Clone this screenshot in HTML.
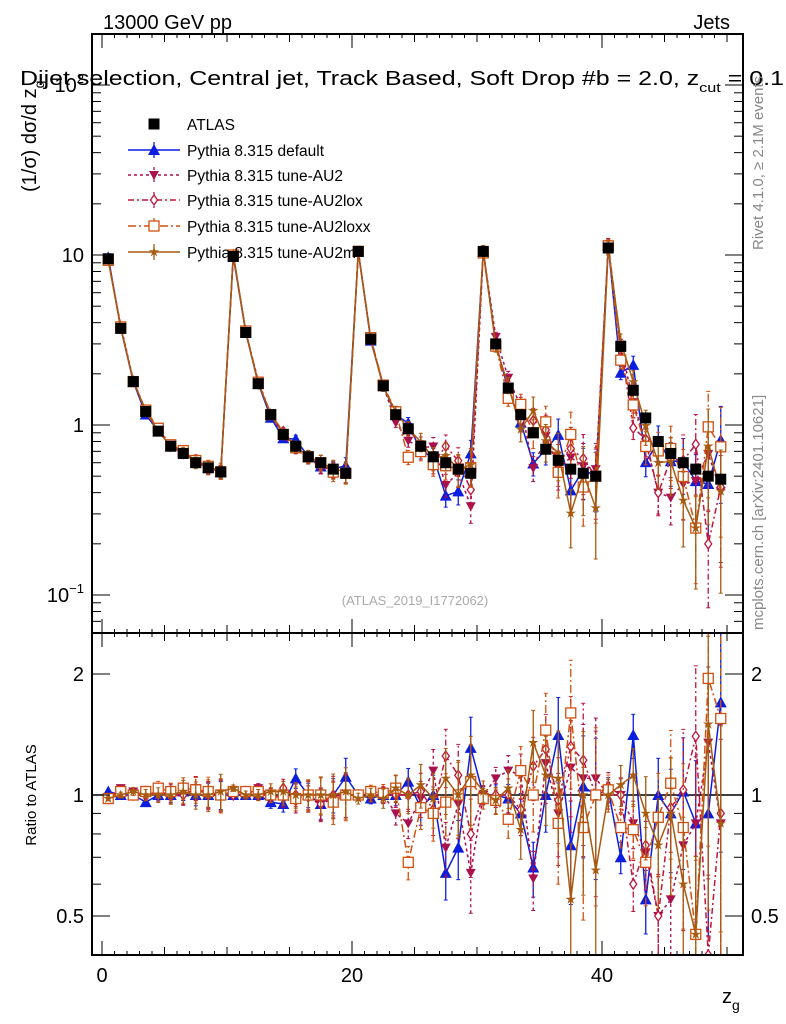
<!DOCTYPE html>
<html><head><meta charset="utf-8"><style>
html,body{margin:0;padding:0;background:#fff;width:786px;height:1024px;overflow:hidden;}
svg{display:block;font-family:"Liberation Sans",sans-serif;}
</style></head><body>
<svg id="c" width="786" height="1024" viewBox="0 0 786 1024" xmlns="http://www.w3.org/2000/svg">
<g id="main"></g>
<g id="ratio"></g>
<text x="103" y="29" font-size="20">13000 GeV pp</text>
<text x="730" y="29" font-size="20" text-anchor="end">Jets</text>
<text x="20" y="85" font-size="20" textLength="764" lengthAdjust="spacingAndGlyphs">Dijet selection, Central jet, Track Based, Soft Drop #b = 2.0, z<tspan dy="7" font-size="13">cut</tspan><tspan dy="-7"> = 0.1</tspan></text>
<text transform="translate(36,192) rotate(-90)" font-size="20">(1/σ) dσ/d z<tspan dy="8" font-size="14">g</tspan></text>
<text transform="translate(36,795) rotate(-90)" font-size="15" text-anchor="middle">Ratio to ATLAS</text>
<text x="722" y="1003" font-size="20">z<tspan dy="7" font-size="14">g</tspan></text>
<text transform="translate(763,250) rotate(-90)" font-size="15" fill="#888">Rivet 4.1.0, ≥ 2.1M events</text>
<text transform="translate(763,630) rotate(-90)" font-size="15" fill="#888">mcplots.cern.ch [arXiv:2401.10621]</text>
<text x="415" y="605" font-size="13" fill="#aaa" text-anchor="middle">(ATLAS_2019_I1772062)</text>
<g id="legend"></g>
</svg>
<script>
const atlas=[9.5,3.7,1.8,1.2,0.92,0.75,0.68,0.6,0.56,0.53,
9.8,3.5,1.75,1.15,0.88,0.75,0.65,0.6,0.55,0.52,
10.5,3.2,1.7,1.15,0.95,0.75,0.65,0.6,0.55,0.52,
10.5,3.0,1.65,1.15,0.9,0.72,0.62,0.55,0.52,0.5,
11,2.9,1.6,1.1,0.8,0.68,0.6,0.55,0.5,0.48];
const rDefault=[1.02,1.0,1.0,0.96,1.0,1.0,1.02,1.0,1.0,1.0,
1.0,1.0,1.0,0.96,0.95,1.1,1.0,0.95,1.0,1.11,
1.0,0.98,1.0,1.0,1.08,0.93,1.0,0.64,0.74,1.31,
1.0,1.0,0.98,0.9,0.66,1.0,1.41,0.75,1.05,1.0,
1.03,0.7,1.41,0.55,1.0,0.9,1.02,0.85,0.9,1.7];
const rAU2=[0.98,1.04,1.02,1.0,1.0,1.02,1.0,1.04,1.0,1.0,
1.02,1.0,1.04,1.0,0.98,0.96,0.98,0.95,0.98,1.0,
1.0,1.0,1.0,0.9,0.85,0.98,1.15,0.74,0.95,0.64,
1.0,1.1,1.15,1.12,0.62,1.2,0.9,1.17,1.1,1.1,
1.0,1.0,0.85,0.72,0.5,0.55,0.75,0.85,1.35,0.85];
const rAU2lox=[0.98,1.02,1.0,1.0,1.02,1.0,1.0,1.04,1.0,1.0,
1.0,1.02,1.0,1.0,1.04,1.0,1.0,0.95,1.0,1.0,
1.0,1.0,1.0,1.0,1.0,1.02,0.92,1.25,1.12,0.8,
1.0,1.0,1.0,0.92,1.18,1.3,0.97,1.32,1.22,1.0,
1.05,1.0,0.6,0.75,0.5,0.93,1.03,1.4,0.4,0.9];
const rAU2loxx=[0.98,1.02,1.0,1.02,1.04,1.02,1.04,1.03,1.02,1.0,
1.02,1.02,1.02,1.0,1.0,0.98,1.0,1.0,0.96,1.0,
1.0,1.02,1.01,1.04,0.68,0.93,0.9,0.96,1.0,1.08,
0.98,0.97,0.87,1.15,1.0,1.45,0.85,1.6,0.83,1.0,
1.03,0.83,0.82,0.68,0.88,1.07,0.83,0.45,1.95,1.55];
const rAU2m=[0.98,1.0,1.02,1.0,1.0,1.0,1.02,1.0,1.0,1.02,
1.04,1.0,1.0,1.02,1.02,1.0,1.0,1.0,1.0,1.02,
0.98,1.0,0.98,1.04,1.0,1.06,0.98,1.1,1.0,1.12,
1.02,0.97,1.04,0.82,1.35,1.12,1.1,0.55,1.0,0.65,
1.0,1.06,1.12,0.9,0.75,0.9,0.6,0.45,1.5,0.85];
const relErrInGroup=[0.02,0.025,0.035,0.05,0.065,0.08,0.1,0.12,0.14,0.16];
const groupErrScale=[0.5,0.7,1.2,2.4,3.6];
const xTicks=[0,20,40];
const yTicks=[0.1,1,10,100];
const yTickLabels=["10","1","10","10"];
const rTicks=[0.5,1,2];

const NS="http://www.w3.org/2000/svg";
const L=92,R=743,T=34,MB=633,RB=955;
const X0=-0.8,X1=51.28;
const xs=v=>L+(v-X0)/(X1-X0)*(R-L);
const cl=(y,a,b)=>Math.min(b,Math.max(a,y));
const yMain=v=>255-170*Math.log10(v/10);
const yRat=v=>795-121*Math.log2(v);
function el(p,tag,a){const e=document.createElementNS(NS,tag);for(const k in a)e.setAttribute(k,a[k]);p.appendChild(e);return e;}
const main=document.getElementById('main'),ratio=document.getElementById('ratio');
const series=[
 {name:"Pythia 8.315 default",r:rDefault,col:"#0b1ee0",dash:"",mk:"tri"},
 {name:"Pythia 8.315 tune-AU2",r:rAU2,col:"#a8104e",dash:"3,3",mk:"tridown"},
 {name:"Pythia 8.315 tune-AU2lox",r:rAU2lox,col:"#c0143c",dash:"6,3,2,3",mk:"diamond"},
 {name:"Pythia 8.315 tune-AU2loxx",r:rAU2loxx,col:"#d05010",dash:"8,3,2,3",mk:"square"},
 {name:"Pythia 8.315 tune-AU2m",r:rAU2m,col:"#a85a10",dash:"",mk:"star"}];
function marker(g,kind,x,y,col){
 let e;
 if(kind==="tri")e=el(g,'polygon',{points:`${x},${y-6} ${x-6},${y+5} ${x+6},${y+5}`,fill:col});
 else if(kind==="tridown")e=el(g,'polygon',{points:`${x},${y+5} ${x-5},${y-4} ${x+5},${y-4}`,fill:col});
 else if(kind==="diamond")e=el(g,'polygon',{points:`${x},${y-5} ${x-3.5},${y} ${x},${y+5} ${x+3.5},${y}`,fill:"#fff",stroke:col,'stroke-width':1.3});
 else if(kind==="square")e=el(g,'rect',{x:x-5,y:y-5,width:10,height:10,fill:"#fff",stroke:col,'stroke-width':1.3});
 else if(kind==="star"){let p=[];for(let i=0;i<10;i++){const a=-Math.PI/2+i*Math.PI/5,rr=i%2?2:5.5;p.push((x+rr*Math.cos(a)).toFixed(1)+","+(y+rr*Math.sin(a)).toFixed(1));}e=el(g,'polygon',{points:p.join(' '),fill:col});}
 else e=el(g,'rect',{x:x-5.5,y:y-5.5,width:11,height:11,fill:col});
 return e;
}
function clip(id,y0,y1){const d=el(document.getElementById('c'),'clipPath',{id:id});el(d,'rect',{x:L,y:y0,width:R-L,height:y1-y0});}
clip('cm',T,MB);clip('cr',MB,RB);
const gm=el(main,'g',{'clip-path':'url(#cm)'}),gr=el(ratio,'g',{'clip-path':'url(#cr)'});
el(gr,'line',{x1:L,x2:R,y1:yRat(1),y2:yRat(1),stroke:"#000",'stroke-width':1.5});
function relErr(i){return relErrInGroup[i%10]*groupErrScale[Math.floor(i/10)];}
series.forEach((s,si)=>{
 const gs=el(gm,'g',{});
 
 
 const grs=el(gr,'g',{});
 
 
 let pm=[],pr=[];
 atlas.forEach((a,i)=>{
  const xc=xs(i+0.5),v=a*s.r[i],e=relErr(i)*(1+0.3*si/4);
  const ym=yMain(v),yr=cl(yRat(s.r[i]),MB,RB);
  pm.push(xc.toFixed(1)+","+ym.toFixed(1));pr.push(xc.toFixed(1)+","+yr.toFixed(1));
  const lo=Math.max(v*(1-e),1e-3),hi=v*(1+e);
  const y1=cl(yMain(lo),T,MB),y2=cl(yMain(hi),T,MB);
  el(gs,'line',{x1:xc,x2:xc,y1:y1,y2:y2,stroke:s.col,'stroke-width':1.3,'stroke-dasharray':s.dash});
  const rlo=Math.max(s.r[i]*(1-e),0.05),rhi=s.r[i]*(1+e);
  const r1=cl(yRat(rlo),MB,RB),r2=cl(yRat(rhi),MB,RB);
  el(grs,'line',{x1:xc,x2:xc,y1:r1,y2:r2,stroke:s.col,'stroke-width':1.3,'stroke-dasharray':s.dash});
  [y1,y2].forEach(y=>el(gs,'line',{x1:xc-2,x2:xc+2,y1:y,y2:y,stroke:s.col}));
  [r1,r2].forEach(y=>el(grs,'line',{x1:xc-2,x2:xc+2,y1:y,y2:y,stroke:s.col}));
 });
 el(gs,'polyline',{points:pm.join(' '),fill:'none',stroke:s.col,'stroke-width':1.5,'stroke-dasharray':s.dash});
 el(grs,'polyline',{points:pr.join(' '),fill:'none',stroke:s.col,'stroke-width':1.5,'stroke-dasharray':s.dash});
 atlas.forEach((a,i)=>{
  const m1=marker(gs,s.mk,xs(i+0.5),yMain(a*s.r[i]),s.col);
  
  
  const m2=marker(grs,s.mk,xs(i+0.5),cl(yRat(s.r[i]),MB,RB),s.col);
  
  
 });
});
const ga=el(gm,'g',{});


atlas.forEach((a,i)=>{
 const m=marker(ga,'data',xs(i+0.5),yMain(a),'#000');
 
 
});
[[T,MB],[MB,RB]].forEach(([a,b])=>{const f=el(document.getElementById('c'),'rect',{x:L,y:a,width:R-L,height:b-a,fill:'none',stroke:'#000','stroke-width':2});});
const axg=el(document.getElementById('c'),'g',{});


for(let v=0;v<=50;v+=5){
 const x=xs(v),len=v%20===0?14:8;
 [[T,1],[MB,-1],[MB,1],[RB,-1]].forEach(([y,d])=>el(axg,'line',{x1:x,x2:x,y1:y,y2:y+d*len,stroke:'#000'}));
}
for(let v=0;v<=50;v+=1){const x=xs(v);[[T,1],[MB,-1],[MB,1],[RB,-1]].forEach(([y,d])=>el(axg,'line',{x1:x,x2:x,y1:y,y2:y+d*4,stroke:'#000'}));}
xTicks.forEach(v=>{const t=el(axg,'text',{x:xs(v),y:982,'font-size':20,'text-anchor':'middle'});t.textContent=v;});
for(let d=-2;d<=2;d++)for(let m=1;m<10;m++){const v=m*Math.pow(10,d),y=yMain(v);if(y<T||y>MB)continue;const len=m===1?18:9;
 el(axg,'line',{x1:L,x2:L+len,y1:y,y2:y,stroke:'#000'});el(axg,'line',{x1:R,x2:R-len,y1:y,y2:y,stroke:'#000'});}
yTicks.forEach((v,i)=>{const y=yMain(v);if(y<T-10||y>MB)return;const t=el(axg,'text',{x:L-8,y:y+7,'font-size':20,'text-anchor':'end'});t.textContent=yTickLabels[i];
 if(v===0.1){const s=el(t,'tspan',{dy:-9,'font-size':13});s.textContent='−1';}
 if(v===100){const s=el(t,'tspan',{dy:-9,'font-size':13});s.textContent='2';}
 });
[0.4,0.5,0.6,0.7,0.8,0.9,1,2].forEach(v=>{const y=yRat(v);const len=(v===0.5||v===1||v===2)?18:9;
 el(axg,'line',{x1:L,x2:L+len,y1:y,y2:y,stroke:'#000'});el(axg,'line',{x1:R,x2:R-len,y1:y,y2:y,stroke:'#000'});});
rTicks.forEach(v=>{const y=yRat(v)+7;[[L-8,'end'],[R+8,'start']].forEach(([x,an])=>{const t=el(axg,'text',{x:x,y:y,'font-size':20,'text-anchor':an});t.textContent=v;});});
const lg=document.getElementById('legend');
const ly=[124,150,175,200,226,252];
const ent=[{name:"ATLAS",mk:"data",col:"#000",dash:""}].concat(series);
ent.forEach((s,i)=>{
 const g=el(lg,'g',{});
 
 
 if(i>0){el(g,'line',{x1:128,x2:180,y1:ly[i],y2:ly[i],stroke:s.col,'stroke-width':1.5,'stroke-dasharray':s.dash});
  el(g,'line',{x1:154,x2:154,y1:ly[i]-8,y2:ly[i]+8,stroke:s.col,'stroke-width':1.3,'stroke-dasharray':s.dash});}
 marker(g,s.mk,154,ly[i],s.col);
 const t=el(g,'text',{x:187,y:ly[i]+6,'font-size':15.5});t.textContent=s.name;
});
</script>
</body></html>
